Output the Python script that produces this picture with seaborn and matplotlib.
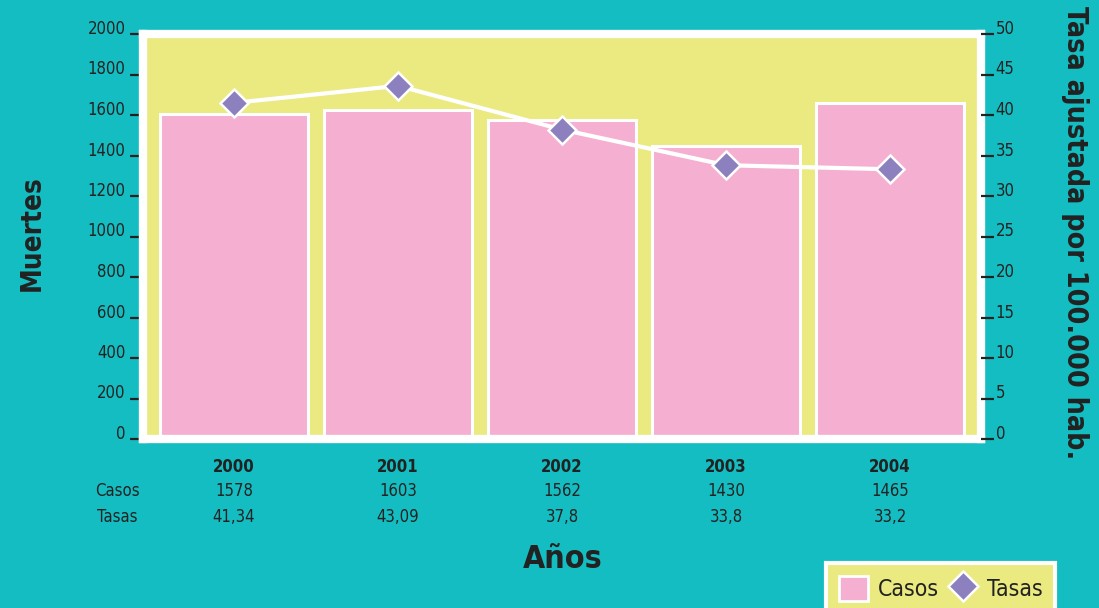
import matplotlib
matplotlib.use("Agg")
import matplotlib.pyplot as plt
import seaborn as sns
import pandas as pd
from matplotlib.patches import Patch
from matplotlib.lines import Line2D
from matplotlib import transforms, font_manager

# ---- data ----
years = ["2000", "2001", "2002", "2003", "2004"]
bar_heights = [1603, 1625, 1575, 1447, 1658]      # bar heights as drawn
rate_points = [41.5, 43.6, 38.2, 33.8, 33.3]       # line values as drawn
casos_text = ["1578", "1603", "1562", "1430", "1465"]
tasas_text = ["41,34", "43,09", "37,8", "33,8", "33,2"]
left_ticks = [0, 200, 400, 600, 800, 1000, 1200, 1400, 1600, 1800, 2000]
right_ticks = [0, 5, 10, 15, 20, 25, 30, 35, 40, 45, 50]

TEAL = "#14BDC1"
YELLOW = "#EAEA80"
PINK = "#F5AFD0"
PURPLE = "#8C80BE"
DARK = "#222222"

sns.set_theme(style="white")

# pick a condensed face if one is installed
cond_ok = False
try:
    p = font_manager.findfont(font_manager.FontProperties(family="DejaVu Sans", stretch="condensed"),
                              fallback_to_default=False)
    cond_ok = "ondensed" in p
except Exception:
    cond_ok = False
if cond_ok:
    plt.rcParams["font.family"] = ["DejaVu Sans"]
    plt.rcParams["font.stretch"] = "condensed"
    SC = 1.0
else:
    plt.rcParams["font.family"] = ["Liberation Sans", "DejaVu Sans"]
    SC = 0.9

fig = plt.figure(figsize=(10.99, 6.08), dpi=100)
fig.patch.set_facecolor(TEAL)
ax = fig.add_axes([143/1099, 1-439/608, (981-143)/1099, (439-34)/608])
ax.set_facecolor(YELLOW)

df = pd.DataFrame({"year": years, "casos": bar_heights, "tasa": rate_points})
sns.barplot(data=df, x="year", y="casos", color=PINK, saturation=1, width=0.9,
            edgecolor="white", linewidth=2.2, ax=ax)
ax.set_xlim(-0.555, 4.555)
ax.set_ylim(0, 2000)
ax.set_yticks(left_ticks)
ax.set_yticklabels([str(t) for t in left_ticks])
for s in ax.spines.values():
    s.set_color("white")
    s.set_linewidth(6)
    s.set_visible(True)
ax.tick_params(axis="y", left=True, direction="out", length=9.5, width=1.6,
               color=DARK, labelsize=12*SC, labelcolor=DARK, pad=3)
ax.tick_params(axis="x", bottom=False, labelbottom=False)
ax.set_xlabel("")
ax.set_ylabel("")
for lbl in ax.get_yticklabels():
    lbl.set_va("baseline")

ax2 = ax.twinx()
ax2.set_ylim(0, 50)
ax2.plot(range(len(years)), rate_points, color="white", lw=3, zorder=3,
         marker="D", markersize=14, markerfacecolor=PURPLE,
         markeredgecolor="white", markeredgewidth=1.8)
ax2.set_xlim(-0.555, 4.555)
ax2.set_yticks(right_ticks)
ax2.set_yticklabels([str(t) for t in right_ticks])
for s in ax2.spines.values():
    s.set_visible(False)
ax2.tick_params(axis="y", right=True, direction="out", length=9.5, width=1.6,
                color=DARK, labelsize=12*SC, labelcolor=DARK, pad=1)
for lbl in ax2.get_yticklabels():
    lbl.set_va("baseline")
ax2.grid(False)
ax.grid(False)

# ---- table under the chart ----
trans = transforms.blended_transform_factory(ax.transData, fig.transFigure)
for i, y in enumerate(years):
    ax.text(i, 1-467/608, y, transform=trans, ha="center", va="center",
            fontsize=12*SC, fontweight="bold", color=DARK)
    ax.text(i, 1-491/608, casos_text[i], transform=trans, ha="center", va="center",
            fontsize=12*SC, color=DARK)
    ax.text(i, 1-517/608, tasas_text[i], transform=trans, ha="center", va="center",
            fontsize=12*SC, color=DARK)
fig.text(117/1099, 1-491/608, "Casos", ha="center", va="center", fontsize=12*SC, color=DARK)
fig.text(117/1099, 1-517/608, "Tasas", ha="center", va="center", fontsize=12*SC, color=DARK)

fig.text(563/1099, 1-559/608, "Años", ha="center", va="center", fontsize=23*SC,
         fontweight="bold", color=DARK)
fig.text(32/1099, 1-233/608, "Muertes", ha="center", va="center", rotation=90,
         fontsize=20*SC, fontweight="bold", color=DARK)
fig.text(1075/1099, 1-233/608, "Tasa ajustada por 100.000 hab.", ha="center",
         va="center", rotation=-90, fontsize=20.5*SC, fontweight="bold", color=DARK)

handles = [Patch(facecolor=PINK, edgecolor="white", linewidth=2),
           Line2D([], [], linestyle="none", marker="D", markersize=15,
                  markerfacecolor=PURPLE, markeredgecolor="white", markeredgewidth=1.8)]
leg = fig.legend(handles, ["Casos", "Tasas"], loc="upper left",
                 bbox_to_anchor=(826/1099, 1-563/608), borderaxespad=0, ncol=2, frameon=True,
                 fontsize=16.5*SC, handlelength=1.3, handleheight=1.35, handletextpad=0.4,
                 columnspacing=0.4, borderpad=0.55, fancybox=False,
                 labelcolor=DARK)
leg.get_frame().set_facecolor(YELLOW)
leg.get_frame().set_edgecolor("white")
leg.get_frame().set_linewidth(3)
leg.get_frame().set_alpha(1)

fig.savefig("out.png", dpi=100, facecolor=TEAL)
